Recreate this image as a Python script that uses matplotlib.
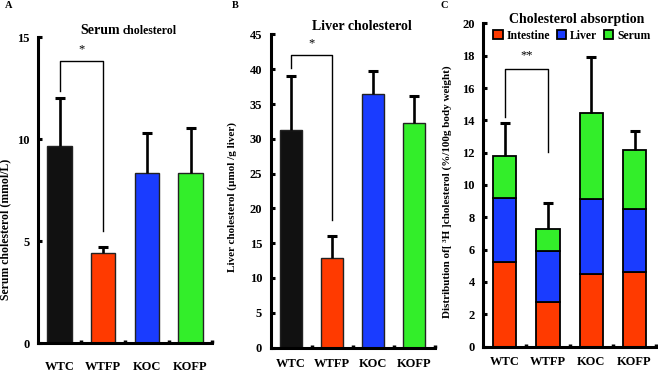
import matplotlib
matplotlib.use("Agg")
import matplotlib.pyplot as plt
import numpy as np

# ---------------- data ----------------
groups = ["WTC", "WTFP", "KOC", "KOFP"]
colors = ["#111111", "#FF3A00", "#1A3CFF", "#33EE2A"]

serum_mean = [9.68, 4.44, 8.36, 8.33]
serum_err = [2.33, 0.30, 1.97, 2.20]

liver_mean = [31.2, 12.8, 36.5, 32.3]
liver_err = [7.8, 3.3, 3.2, 3.9]

absorb_intestine = [5.25, 2.77, 4.50, 4.59]
absorb_liver = [3.95, 3.12, 4.61, 3.90]
absorb_serum = [2.60, 1.38, 5.33, 3.70]
absorb_err = [2.06, 1.63, 3.46, 1.17]

layer_names = ["Intestine", "Liver", "Serum"]
layer_colors = ["#FF3A00", "#1A3CFF", "#33EE2A"]

plt.rcParams["font.family"] = ["Liberation Serif", "DejaVu Serif"]
plt.rcParams["font.weight"] = "bold"

W, H = 658, 372
fig = plt.figure(figsize=(W / 100, H / 100), dpi=100)


def px_axes(left, right, bottom, top):
    return fig.add_axes([left / W, 1 - bottom / H, (right - left) / W, (bottom - top) / H])


def style(ax, ymax, ystep, labpad):
    x = np.arange(len(groups))
    ax.set_xlim(-0.5, 3.5)
    ax.set_ylim(0, ymax)
    for s in ["top", "right"]:
        ax.spines[s].set_visible(False)
    for s in ["left", "bottom"]:
        ax.spines[s].set_linewidth(2.2)
    ax.set_xticks(x)
    ax.set_xticklabels(groups, fontsize=9, fontweight="bold")
    ax.tick_params(axis="x", which="major", length=0, pad=labpad)
    ax.set_xticks(np.arange(0.5, 4.0, 1.0), minor=True)
    ax.tick_params(axis="x", which="minor", direction="in", length=2.5, width=2.5)
    ax.set_yticks(np.arange(0, ymax + 0.001, ystep))
    ax.tick_params(axis="y", direction="in", length=3, width=2.2, labelsize=9, pad=6)
    for lab in ax.get_yticklabels():
        lab.set_fontweight("bold")


def upper_err(ax, top, err):
    top = np.asarray(top, dtype=float)
    err = np.asarray(err, dtype=float)
    xs = np.arange(len(top))
    ax.vlines(xs, top, top + err, color="black", lw=1.9, zorder=3)
    ax.plot(xs, top + err, linestyle="none", marker="_", markersize=7, mew=2.2,
            color="black", zorder=3)


def bracket(ax, y0, ytop, y1, star, ystar):
    ax.plot([0, 0, 1, 1], [y0, ytop, ytop, y1], color="black", lw=1.0, clip_on=False)
    ax.text(0.5, ystar, star, ha="center", va="center", fontsize=9, fontweight="normal")


x = np.arange(len(groups))

# ---------------- A ----------------
axA = px_axes(37.7, 212.4, 343.3, 37.3)
axA.bar(x, serum_mean, width=0.56, color=colors, edgecolor="#222222", linewidth=1.0)
upper_err(axA, serum_mean, serum_err)
style(axA, 15, 5, 12.5)
bracket(axA, 12.35, 13.85, 5.5, "*", 14.4)
fig.text(9 / W, 1 - 6 / H, "A", fontsize=7.5, fontweight="bold", ha="center", va="center")
fig.text(5 / W, 1 - 229 / H, "Serum cholesterol (mmol/L)", rotation=90, fontsize=8.5,
         fontweight="bold", ha="center", va="center")
fig.text(100 / W, 1 - 31 / H, "Serum", fontsize=10, fontweight="bold", ha="center", va="center")
fig.text(150 / W, 1 - 31 / H, "cholesterol", fontsize=8.5, fontweight="bold", ha="center", va="center")

# ---------------- B ----------------
axB = px_axes(270.5, 434.5, 347.5, 34.5)
axB.bar(x, liver_mean, width=0.56, color=colors, edgecolor="#222222", linewidth=1.0)
upper_err(axB, liver_mean, liver_err)
style(axB, 45, 5, 7.5)
bracket(axB, 40.2, 42.0, 18.4, "*", 43.8)
fig.text(235.5 / W, 1 - 6 / H, "B", fontsize=7.5, fontweight="bold", ha="center", va="center")
fig.text(232 / W, 1 - 196.5 / H, "Liver cholesterol (µmol /g liver)", rotation=90, fontsize=8,
         fontweight="bold", ha="center", va="center")
fig.text(362 / W, 1 - 26 / H, "Liver cholesterol", fontsize=10, fontweight="bold",
         ha="center", va="center")

# ---------------- C ----------------
axC = px_axes(483, 656.2, 346.5, 23.5)
bottom = np.zeros(4)
handles = []
for vals, name, col in zip([absorb_intestine, absorb_liver, absorb_serum], layer_names, layer_colors):
    vals = np.array(vals)
    b = axC.bar(x, vals, width=0.54, bottom=bottom, color=col, edgecolor="black",
                linewidth=1.3, label=name)
    handles.append(b)
    bottom = bottom + vals
upper_err(axC, bottom, absorb_err)
style(axC, 20, 2, 6.5)
bracket(axC, 14.2, 17.2, 12.05, "**", 18.05)
fig.text(444 / W, 1 - 6 / H, "C", fontsize=7.5, fontweight="bold", ha="center", va="center")
fig.text(447.5 / W, 1 - 192 / H, "Distribution of[ ³H ]cholesterol (%/100g body weight)",
         rotation=90, fontsize=8, fontweight="bold", ha="center", va="center")
fig.text(577 / W, 1 - 19 / H, "Cholesterol absorption", fontsize=10, fontweight="bold",
         ha="center", va="center")
leg = fig.legend(handles=handles, labels=layer_names, loc="center", ncol=3,
                 bbox_to_anchor=(572 / W, 1 - 36 / H), frameon=False, fontsize=8.5,
                 handlelength=0.8, handleheight=0.8, handletextpad=0.35, columnspacing=0.55,
                 borderaxespad=0, borderpad=0)

fig.savefig("out.png", dpi=100)
